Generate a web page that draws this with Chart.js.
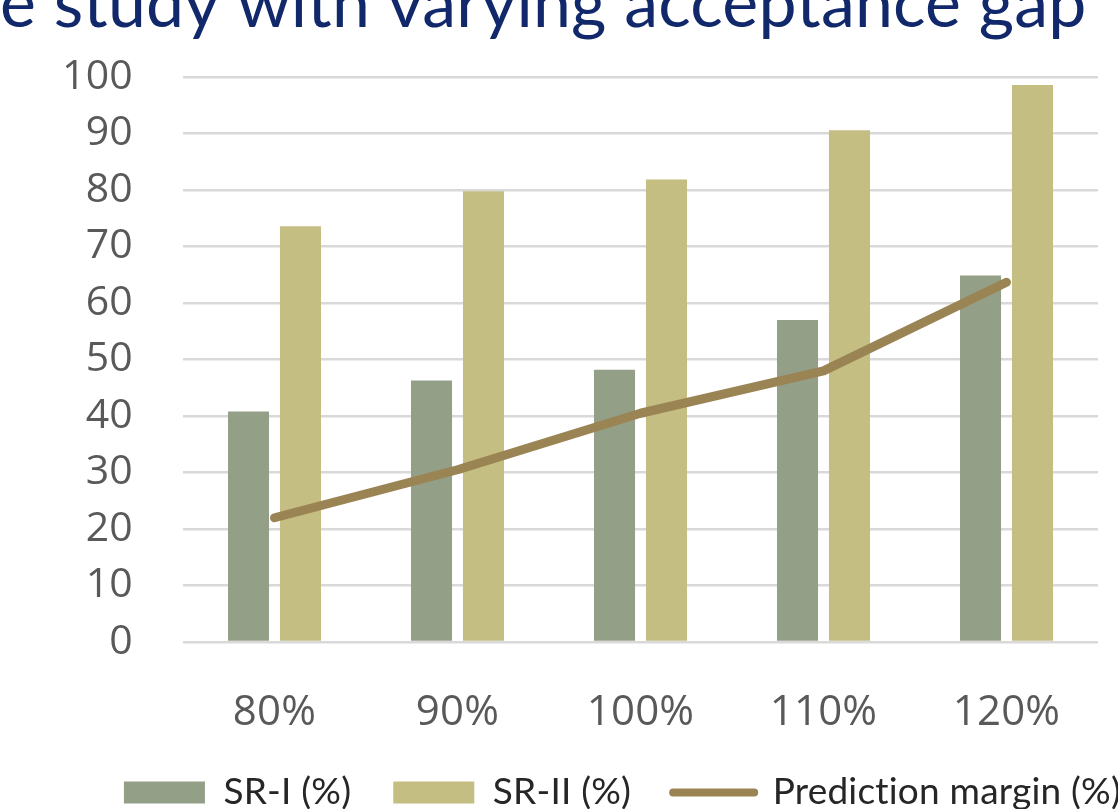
<!DOCTYPE html>
<html>
<head>
<meta charset="utf-8">
<script src="https://cdn.jsdelivr.net/npm/chart.js@4/dist/chart.umd.min.js"></script>
<style>
  html, body { margin: 0; padding: 0; background: #ffffff; overflow: hidden; width: 1118px; height: 809px; }
  #wrap { position: absolute; left: 0; top: 0; width: 1238px; height: 821px; }
</style>
</head>
<body>
<div id="wrap"><canvas id="chart" width="1238" height="821"></canvas></div>
<script>
// Acceptance gap levels on the category axis
const categories = ['80%', '90%', '100%', '110%', '120%'];

// Success rates and prediction margin per acceptance gap (%)
const srI = [40.8, 46.3, 48.2, 57.0, 64.9];
const srII = [73.6, 79.8, 81.9, 90.6, 98.6];
const predictionMargin = [22.0, 30.5, 40.5, 48.0, 63.7];

// Value axis range and tick spacing
const yMin = 0;
const yMax = 100;
const yStep = 10;

const seriesNames = ['SR-I (%)', 'SR-II (%)', 'Prediction margin (%)'];
const titleText = 'e study with varying acceptance gap';

const colors = {
  srI: '#939f86',
  srII: '#c4be82',
  margin: '#9b8453',
  grid: '#d9d9d9',
  tick: '#595959',
  legend: '#262626',
  title: '#11286b'
};

// A hair of letter spacing keeps the "ti" pair as separate glyphs
const textSpacing = {
  id: 'textSpacing',
  beforeDraw(chart) { chart.ctx.letterSpacing = '0.2px'; }
};

const ctx = document.getElementById('chart').getContext('2d');

new Chart(ctx, {
  type: 'bar',
  plugins: [textSpacing],
  data: {
    labels: categories,
    datasets: [
      {
        type: 'line',
        label: seriesNames[2],
        data: predictionMargin,
        borderColor: colors.margin,
        backgroundColor: colors.margin,
        borderWidth: 9,
        borderCapStyle: 'round',
        borderJoinStyle: 'round',
        pointRadius: 0,
        pointHoverRadius: 0,
        tension: 0,
        fill: false,
        order: 0
      },
      {
        label: seriesNames[0],
        data: srI,
        backgroundColor: colors.srI,
        borderWidth: 0,
        categoryPercentage: 0.568,
        barPercentage: 0.79,
        order: 1
      },
      {
        label: seriesNames[1],
        data: srII,
        backgroundColor: colors.srII,
        borderWidth: 0,
        categoryPercentage: 0.568,
        barPercentage: 0.79,
        order: 2
      }
    ]
  },
  options: {
    responsive: false,
    animation: false,
    devicePixelRatio: 1,
    layout: { padding: 0 },
    plugins: {
      tooltip: { enabled: false },
      title: {
        display: true,
        text: titleText,
        align: 'start',
        color: colors.title,
        font: { family: 'Lato, "Open Sans", sans-serif', size: 68, weight: 'normal', lineHeight: 0.15 },
        padding: { top: 0, bottom: 67 }
      },
      legend: {
        display: true,
        position: 'bottom',
        align: 'center',
        labels: {
          usePointStyle: true,
          pointStyleWidth: 81,
          boxHeight: 22,
          padding: 42,
          color: colors.legend,
          font: { family: 'Lato, "Open Sans", sans-serif', size: 37 },
          generateLabels: () => [
            { text: seriesNames[0], fillStyle: colors.srI, strokeStyle: colors.srI, lineWidth: 0, pointStyle: 'rect', hidden: false, datasetIndex: 1, fontColor: colors.legend },
            { text: seriesNames[1], fillStyle: colors.srII, strokeStyle: colors.srII, lineWidth: 0, pointStyle: 'rect', hidden: false, datasetIndex: 2, fontColor: colors.legend },
            { text: seriesNames[2], fillStyle: colors.margin, strokeStyle: colors.margin, lineWidth: 8, lineCap: 'round', pointStyle: 'line', hidden: false, datasetIndex: 0, fontColor: colors.legend }
          ]
        }
      }
    },
    scales: {
      x: {
        grid: { display: false, drawTicks: false },
        border: { display: false },
        ticks: {
          color: colors.tick,
          padding: 46,
          font: { family: '"Open Sans", sans-serif', size: 42 }
        },
        afterFit: (scale) => { scale.height = 90; }
      },
      y: {
        min: yMin,
        max: yMax,
        position: 'left',
        grid: { color: colors.grid, lineWidth: 2.5, drawTicks: false },
        border: { display: false },
        ticks: {
          stepSize: yStep,
          color: colors.tick,
          padding: 50,
          font: { family: '"Open Sans", sans-serif', size: 41 }
        },
        afterFit: (scale) => { scale.width = 183; }
      },
      yRight: {
        position: 'right',
        display: true,
        grid: { display: false, drawTicks: false },
        border: { display: false },
        ticks: { display: false },
        afterFit: (scale) => { scale.width = 140; }
      }
    }
  }
});
</script>
</body>
</html>
